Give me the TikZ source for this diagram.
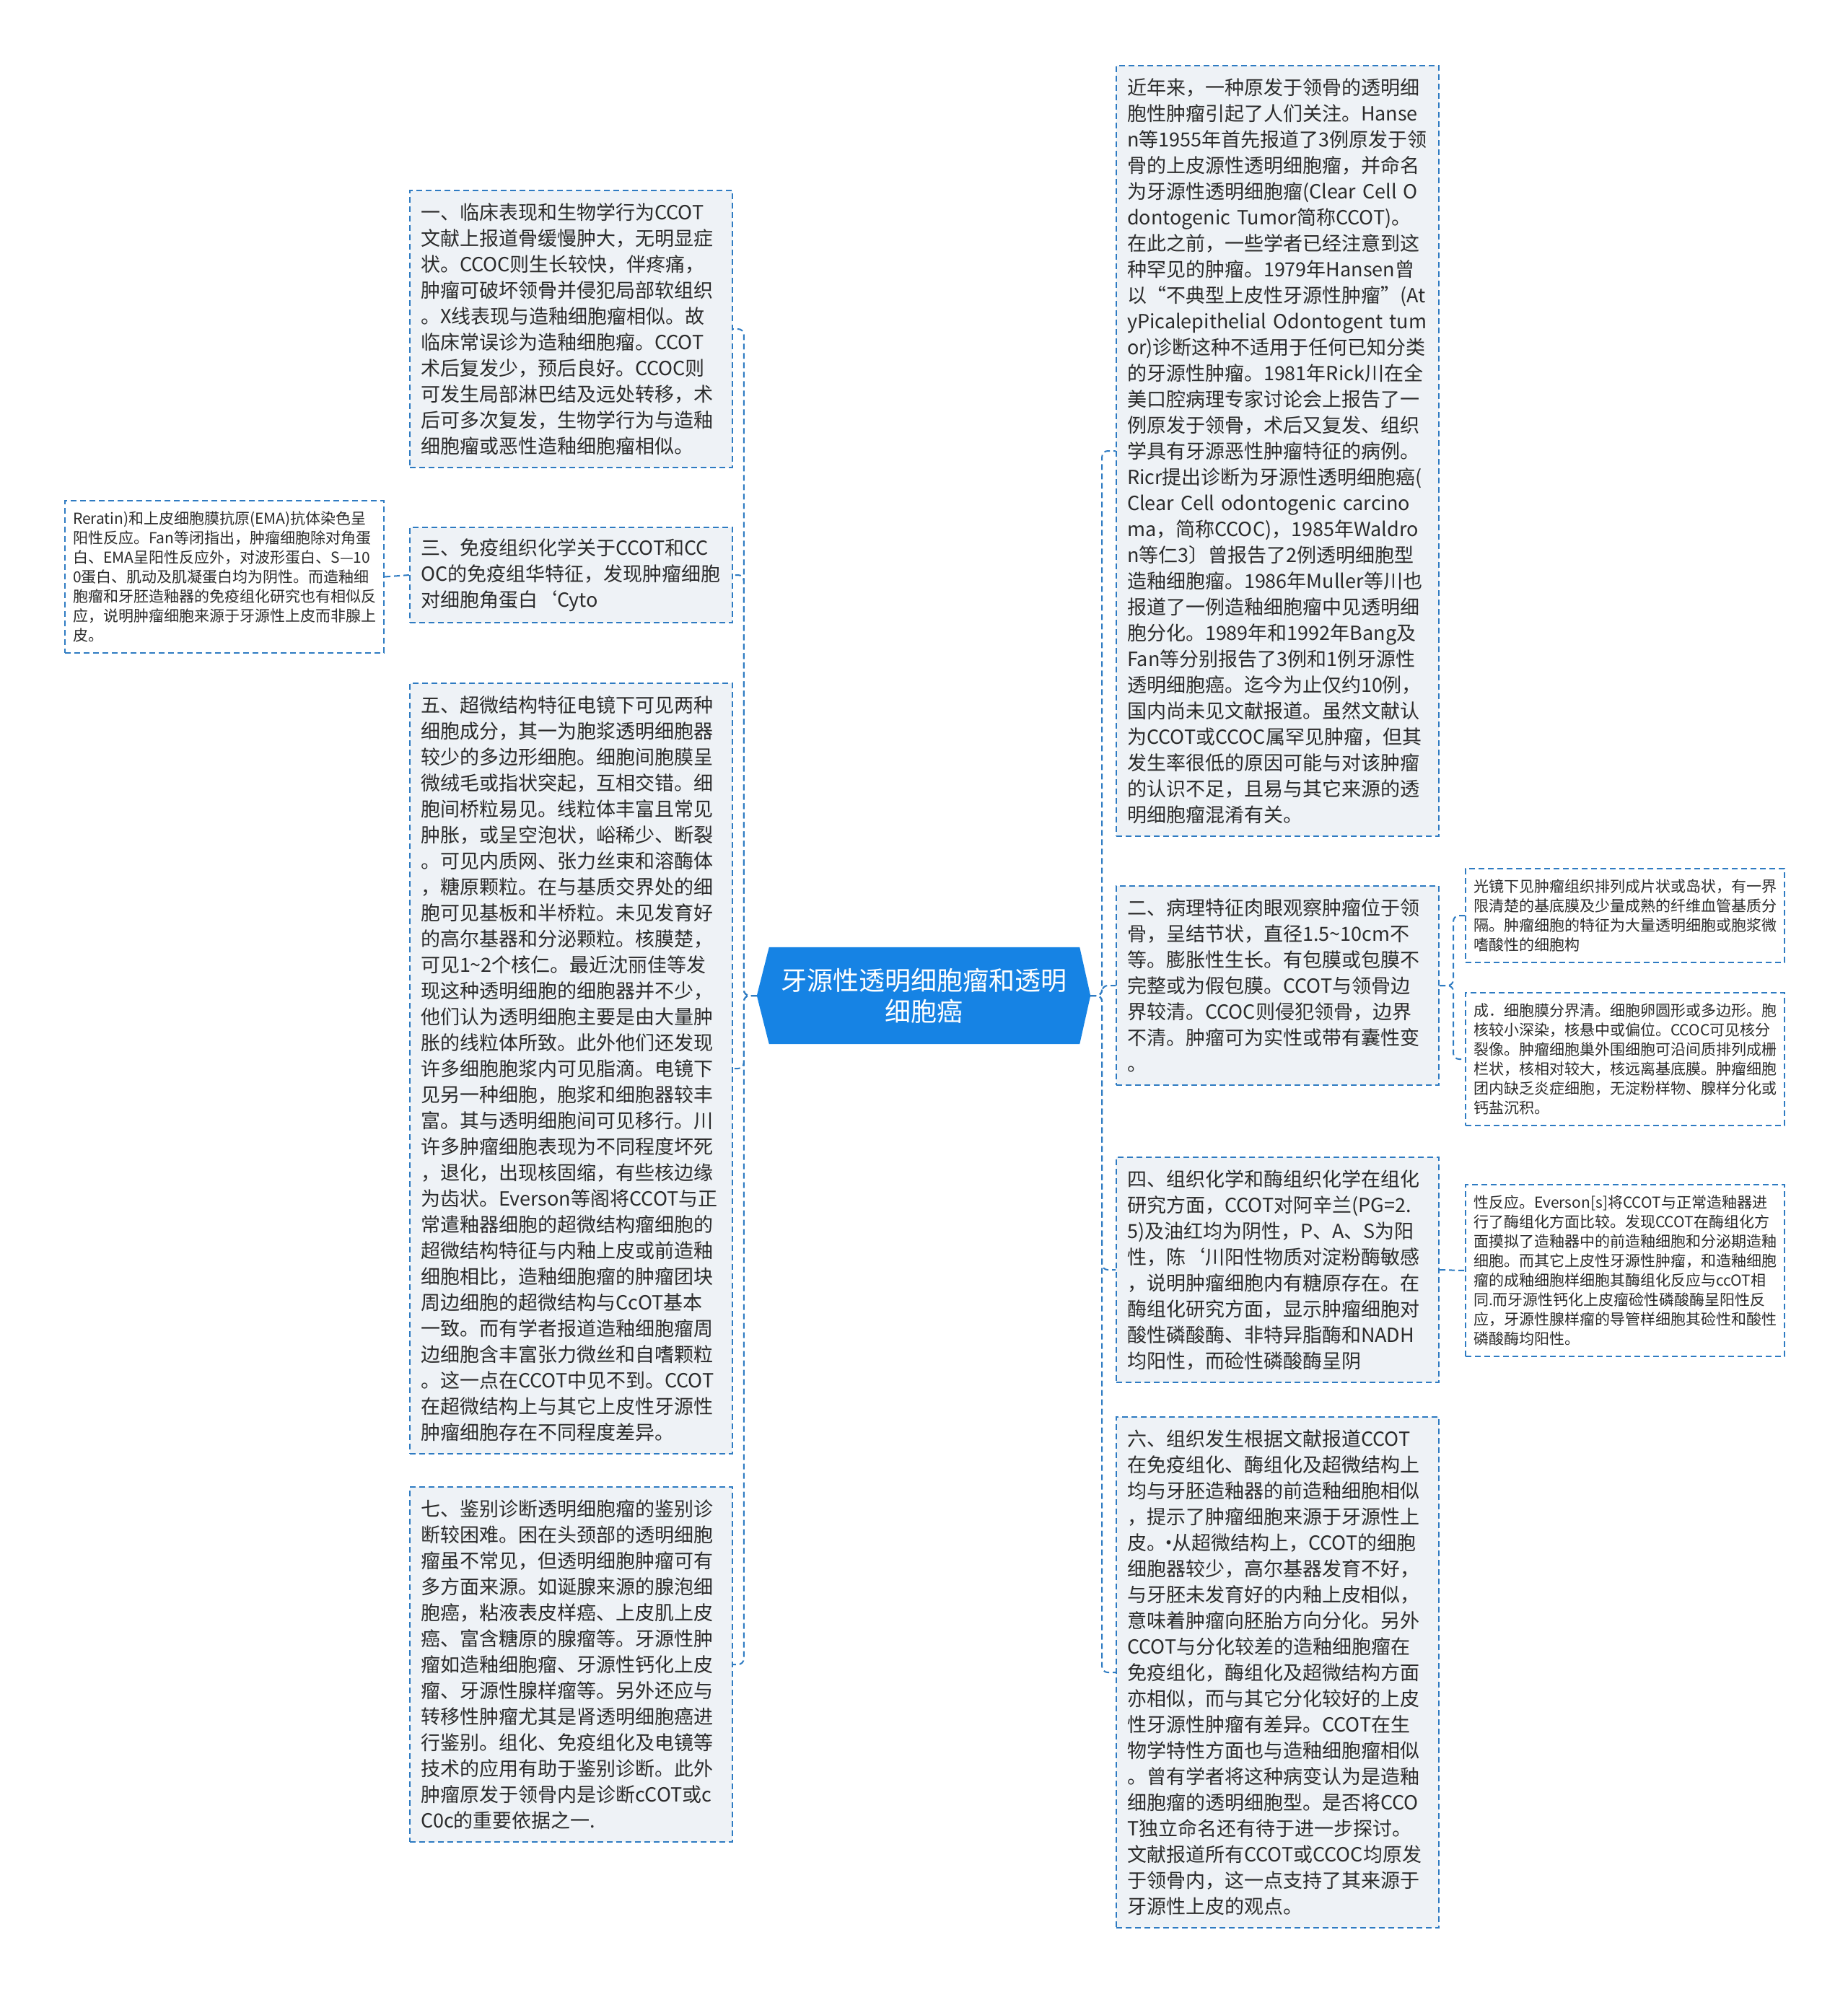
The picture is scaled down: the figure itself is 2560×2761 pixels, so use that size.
\documentclass[tikz,border=0pt]{standalone}
\usepackage{fontspec}
\newfontfamily\cjkfont{Noto Sans CJK SC}
\usetikzlibrary{calc,backgrounds}
\definecolor{lineblue}{HTML}{2E7BC2}
\definecolor{boxfill}{HTML}{EEF2F6}
\definecolor{txtcol}{HTML}{2B2B2B}
\definecolor{centerblue}{HTML}{1683E4}
\tikzset{
  conn/.style={draw=lineblue, line width=2pt, dash pattern=on 8pt off 5pt, rounded corners=8pt},
  mainbox/.style={draw=lineblue, fill=boxfill, line width=2pt, dash pattern=on 8pt off 5pt,
    anchor=north west, minimum width=447pt, text width=417pt, inner xsep=15pt, inner ysep=0pt,
    align=left, text=txtcol, font=\cjkfont\fontsize{27}{36}\selectfont},
  subbox/.style={draw=lineblue, fill=white, line width=2pt, dash pattern=on 8pt off 5pt,
    anchor=north west, minimum width=442pt, text width=420pt, inner xsep=11pt, inner ysep=0pt,
    align=left, text=txtcol, font=\cjkfont\fontsize{21}{27}\selectfont},
  centralnode/.style={minimum width=462pt, minimum height=134pt, inner sep=0pt, align=center,
    text=white, font=\cjkfont\fontsize{36}{43}\selectfont}
}
\begin{document}
\begin{tikzpicture}[x=1pt,y=-1pt]
\useasboundingbox (0,0) rectangle (2560,2761);

% central node
\node[centralnode] (c) at (1280,1380) {牙源性透明细胞瘤和透明\\细胞癌};
\begin{scope}[on background layer]
  \fill[white] (0,0) rectangle (2560,2761);
  \fill[centerblue] (c.west) -- ($(c.north west)+(17,0)$) -- ($(c.north east)+(-15,0)$) -- (c.east)
     -- ($(c.south east)+(-15,0)$) -- ($(c.south west)+(17,0)$) -- cycle;
\end{scope}

% left branches
\node[mainbox, minimum height=384pt] (b1) at (567,263) {一、临床表现和生物学行为CCOT\\
文献上报道骨缓慢肿大，无明显症\\
状。CCOC则生长较快，伴疼痛，\\
肿瘤可破坏领骨并侵犯局部软组织\\
。X线表现与造釉细胞瘤相似。故\\
临床常误诊为造釉细胞瘤。CCOT\\
术后复发少，预后良好。CCOC则\\
可发生局部淋巴结及远处转移，术\\
后可多次复发，生物学行为与造釉\\
细胞瘤或恶性造釉细胞瘤相似。};

\node[mainbox, minimum height=132pt] (b3) at (567,730) {三、免疫组织化学关于CCOT和CC\\
OC的免疫组华特征，发现肿瘤细胞\\
对细胞角蛋白‘Cyto};

\node[subbox, minimum height=211pt] (s0) at (89,693) {Reratin)和上皮细胞膜抗原(EMA)抗体染色呈\\
阳性反应。Fan等闭指出，肿瘤细胞除对角蛋\\
白、EMA呈阳性反应外，对波形蛋白、S—10\\
0蛋白、肌动及肌凝蛋白均为阴性。而造釉细\\
胞瘤和牙胚造釉器的免疫组化研究也有相似反\\
应，说明肿瘤细胞来源于牙源性上皮而非腺上\\
皮。};

\node[mainbox, minimum height=1068pt] (b5) at (567,946) {五、超微结构特征电镜下可见两种\\
细胞成分，其一为胞浆透明细胞器\\
较少的多边形细胞。细胞间胞膜呈\\
微绒毛或指状突起，互相交错。细\\
胞间桥粒易见。线粒体丰富且常见\\
肿胀，或呈空泡状，峪稀少、断裂\\
。可见内质网、张力丝束和溶酶体\\
，糖原颗粒。在与基质交界处的细\\
胞可见基板和半桥粒。未见发育好\\
的高尔基器和分泌颗粒。核膜楚，\\
可见1\textasciitilde 2个核仁。最近沈丽佳等发\\
现这种透明细胞的细胞器并不少，\\
他们认为透明细胞主要是由大量肿\\
胀的线粒体所致。此外他们还发现\\
许多细胞胞浆内可见脂滴。电镜下\\
见另一种细胞，胞浆和细胞器较丰\\
富。其与透明细胞间可见移行。川\\
许多肿瘤细胞表现为不同程度坏死\\
，退化，出现核固缩，有些核边缘\\
为齿状。Everson等阁将CCOT与正\\
常遣釉器细胞的超微结构瘤细胞的\\
超微结构特征与内釉上皮或前造釉\\
细胞相比，造釉细胞瘤的肿瘤团块\\
周边细胞的超微结构与CcOT基本\\
一致。而有学者报道造釉细胞瘤周\\
边细胞含丰富张力微丝和自嗜颗粒\\
。这一点在CCOT中见不到。CCOT\\
在超微结构上与其它上皮性牙源性\\
肿瘤细胞存在不同程度差异。};

\node[mainbox, minimum height=492pt] (b7) at (567,2060) {七、鉴别诊断透明细胞瘤的鉴别诊\\
断较困难。困在头颈部的透明细胞\\
瘤虽不常见，但透明细胞肿瘤可有\\
多方面来源。如诞腺来源的腺泡细\\
胞癌，粘液表皮样癌、上皮肌上皮\\
癌、富含糖原的腺瘤等。牙源性肿\\
瘤如造釉细胞瘤、牙源性钙化上皮\\
瘤、牙源性腺样瘤等。另外还应与\\
转移性肿瘤尤其是肾透明细胞癌进\\
行鉴别。组化、免疫组化及电镜等\\
技术的应用有助于鉴别诊断。此外\\
肿瘤原发于领骨内是诊断cCOT或c\\
C0c的重要依据之一.};

% right branches
\node[mainbox, minimum height=1068pt] (r1) at (1546,90) {近年来，一种原发于领骨的透明细\\
胞性肿瘤引起了人们关注。Hanse\\
n等1955年首先报道了3例原发于领\\
骨的上皮源性透明细胞瘤，并命名\\
为牙源性透明细胞瘤(Clear~Cell~O\\
dontogenic~Tumor简称CCOT)。\\
在此之前，一些学者已经注意到这\\
种罕见的肿瘤。1979年Hansen曾\\
以“不典型上皮性牙源性肿瘤”(At\\
yPicalepithelial~Odontogent~tum\\
or)诊断这种不适用于任何已知分类\\
的牙源性肿瘤。1981年Rick川在全\\
美口腔病理专家讨论会上报告了一\\
例原发于领骨，术后又复发、组织\\
学具有牙源恶性肿瘤特征的病例。\\
Ricr提出诊断为牙源性透明细胞癌(\\
Clear~Cell~odontogenic~carcino\\
ma，简称CCOC)，1985年Waldro\\
n等仁3〕曾报告了2例透明细胞型\\
造釉细胞瘤。1986年Muller等川也\\
报道了一例造釉细胞瘤中见透明细\\
胞分化。1989年和1992年Bang及\\
Fan等分别报告了3例和1例牙源性\\
透明细胞癌。迄今为止仅约10例，\\
国内尚未见文献报道。虽然文献认\\
为CCOT或CCOC属罕见肿瘤，但其\\
发生率很低的原因可能与对该肿瘤\\
的认识不足，且易与其它来源的透\\
明细胞瘤混淆有关。};

\node[mainbox, minimum height=276pt] (b2) at (1546,1227) {二、病理特征肉眼观察肿瘤位于领\\
骨，呈结节状，直径1.5\textasciitilde 10cm不\\
等。膨胀性生长。有包膜或包膜不\\
完整或为假包膜。CCOT与领骨边\\
界较清。CCOC则侵犯领骨，边界\\
不清。肿瘤可为实性或带有囊性变\\
。};

\node[subbox, minimum height=130pt] (s1) at (2030,1203) {光镜下见肿瘤组织排列成片状或岛状，有一界\\
限清楚的基底膜及少量成熟的纤维血管基质分\\
隔。肿瘤细胞的特征为大量透明细胞或胞浆微\\
嗜酸性的细胞构};

\node[subbox, minimum height=184pt] (s2) at (2030,1375) {成．细胞膜分界清。细胞卵圆形或多边形。胞\\
核较小深染，核悬中或偏位。CCOC可见核分\\
裂像。肿瘤细胞巢外围细胞可沿间质排列成栅\\
栏状，核相对较大，核远离基底膜。肿瘤细胞\\
团内缺乏炎症细胞，无淀粉样物、腺样分化或\\
钙盐沉积。};

\node[mainbox, minimum height=312pt] (b4) at (1546,1603) {四、组织化学和酶组织化学在组化\\
研究方面，CCOT对阿辛兰(PG=2.\\
5)及油红均为阴性，P、A、S为阳\\
性，陈‘川阳性物质对淀粉酶敏感\\
，说明肿瘤细胞内有糖原存在。在\\
酶组化研究方面，显示肿瘤细胞对\\
酸性磷酸酶、非特异脂酶和NADH\\
均阳性，而硷性磷酸酶呈阴};

\node[subbox, minimum height=238pt] (s4) at (2030,1641) {性反应。Everson[s]将CCOT与正常造釉器进\\
行了酶组化方面比较。发现CCOT在酶组化方\\
面摸拟了造釉器中的前造釉细胞和分泌期造釉\\
细胞。而其它上皮性牙源性肿瘤，和造釉细胞\\
瘤的成釉细胞样细胞其酶组化反应与ccOT相\\
同.而牙源性钙化上皮瘤硷性磷酸酶呈阳性反\\
应，牙源性腺样瘤的导管样细胞其硷性和酸性\\
磷酸酶均阳性。};

\node[mainbox, minimum height=708pt] (b6) at (1546,1963) {六、组织发生根据文献报道CCOT\\
在免疫组化、酶组化及超微结构上\\
均与牙胚造釉器的前造釉细胞相似\\
，提示了肿瘤细胞来源于牙源性上\\
皮。\makebox[8pt][c]{·}从超微结构上，CCOT的细胞\\
细胞器较少，高尔基器发育不好，\\
与牙胚未发育好的内釉上皮相似，\\
意味着肿瘤向胚胎方向分化。另外\\
CCOT与分化较差的造釉细胞瘤在\\
免疫组化，酶组化及超微结构方面\\
亦相似，而与其它分化较好的上皮\\
性牙源性肿瘤有差异。CCOT在生\\
物学特性方面也与造釉细胞瘤相似\\
。曾有学者将这种病变认为是造釉\\
细胞瘤的透明细胞型。是否将CCO\\
T独立命名还有待于进一步探讨。\\
文献报道所有CCOT或CCOC均原发\\
于领骨内，这一点支持了其来源于\\
牙源性上皮的观点。};

% connectors
\draw[conn] (c.west) -- ++(-18,0) |- (b1.east);
\draw[conn] (c.west) -- ++(-18,0) |- (b3.east);
\draw[conn] (c.west) -- ++(-18,0) |- (b5.east);
\draw[conn] (c.west) -- ++(-18,0) |- (b7.east);
\draw[conn] (b3.west) -- (s0.east);
\draw[conn] (c.east) -- ++(16,0) |- (r1.west);
\draw[conn] (c.east) -- ++(16,0) |- (b2.west);
\draw[conn] (c.east) -- ++(16,0) |- (b4.west);
\draw[conn] (c.east) -- ++(16,0) |- (b6.west);
\draw[conn] (b2.east) -- ++(19,0) |- (s1.west);
\draw[conn] (b2.east) -- ++(19,0) |- (s2.west);
\draw[conn] (b4.east) -- (s4.west);
\end{tikzpicture}
\end{document}
